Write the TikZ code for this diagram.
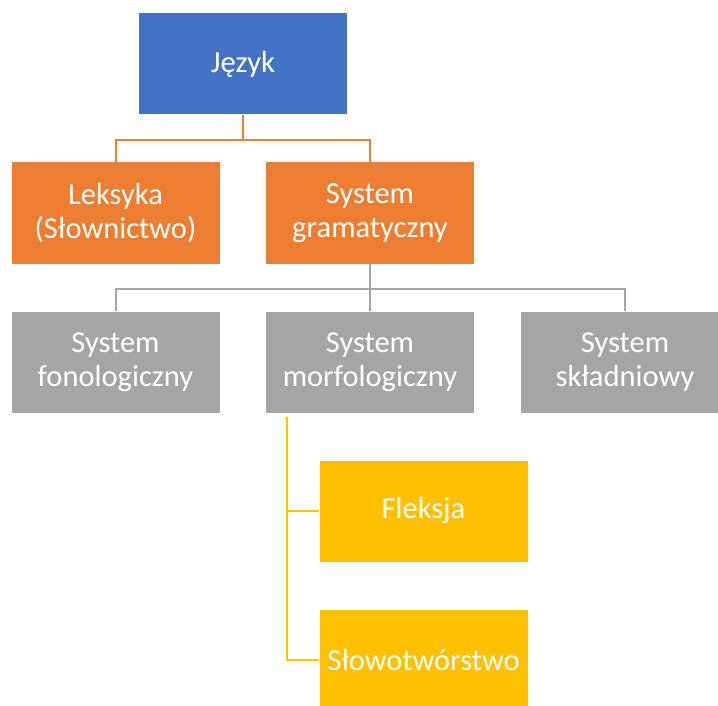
\documentclass[tikz,border=0pt]{standalone}
\usepackage{fontspec}
\setmainfont{Carlito}
\usetikzlibrary{calc}

\definecolor{jezykblue}{HTML}{4472C4}
\definecolor{gramorange}{HTML}{ED7D31}
\definecolor{sysgray}{HTML}{A5A5A5}
\definecolor{morfgold}{HTML}{FFC000}

\tikzset{
	box/.style={minimum width=208pt,minimum height=101pt,inner sep=0pt,align=center,
		text=white,font=\fontsize{30.5}{34}\selectfont},
	branch/.style={line width=2pt}
}

\begin{document}
\begin{tikzpicture}[x=1pt,y=-1pt]
	
	\useasboundingbox (0,0) rectangle (718,706);
	
	\node[box,fill=jezykblue] (jezyk) at (243,64) {Język};
	
	\node[box,fill=gramorange] (leksyka) at (115.5,213) {Leksyka\\(Słownictwo)};
	\node[box,fill=gramorange] (gram) at (370,213) {System\\gramatyczny};
	
	\node[box,fill=sysgray] (fono) at (115.5,362) {System\\fonologiczny};
	\node[box,fill=sysgray] (morf) at (370,362) {System\\morfologiczny};
	\node[box,fill=sysgray] (skladnia) at (625,362) {System\\składniowy};
	
	\node[box,fill=morfgold] (fleksja) at (423.5,511) {Fleksja};
	\node[box,fill=morfgold] (slowo) at (423.5,660) {Słowotwórstwo};
	
	\draw[branch,gramorange] (jezyk.south) -- ++(0,25) -| (leksyka.north);
	\draw[branch,gramorange] (jezyk.south) ++(0,25) -| (gram.north);
	
	\draw[branch,sysgray] (gram.south) -- (morf.north);
	\draw[branch,sysgray] (gram.south) ++(0,25) -| (fono.north);
	\draw[branch,sysgray] (gram.south) ++(0,25) -| (skladnia.north);
	
	\coordinate (morfstem) at ($(morf.south west)+(21,4)$);
	\draw[branch,morfgold] (morfstem) |- (fleksja.west);
	\draw[branch,morfgold] (morfstem) |- (slowo.west);
	
\end{tikzpicture}
\end{document}
